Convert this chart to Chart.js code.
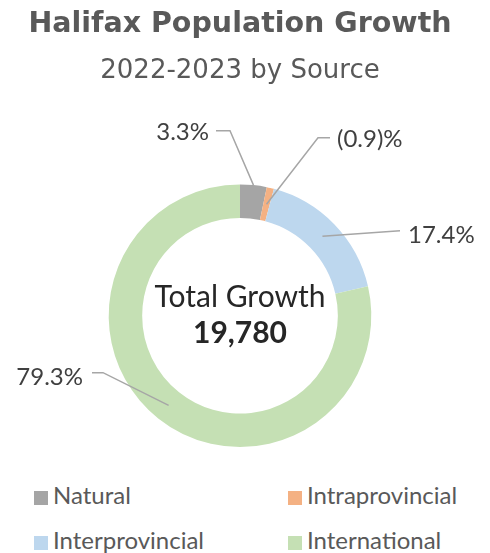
<!DOCTYPE html>
<html>
<head>
<meta charset="utf-8">
<script src="https://cdn.jsdelivr.net/npm/chart.js@4.4.1/dist/chart.umd.min.js"></script>
<style>
  html, body { margin: 0; padding: 0; background: #fff; }
  #wrap { width: 490px; height: 553px; position: relative; }
  #growthChart { display: block; }
  #legend {
    position: absolute; left: 0; top: 472px; width: 490px;
    display: grid; grid-template-columns: 254px 236px;
    font-family: Lato, sans-serif; font-size: 24px; color: #595959;
  }
  #legend div { height: 45px; line-height: 45px; padding-left: 34px; white-space: nowrap; }
  #legend span { display: inline-block; width: 14px; height: 14px; margin-right: 5px; vertical-align: -1px; }
</style>
</head>
<body>
<div id="wrap">
  <canvas id="growthChart" width="490" height="470"></canvas>
  <div id="legend"></div>
</div>
<script>
const categories = ['Natural', 'Intraprovincial', 'Interprovincial', 'International'];
const shares = [3.3, -0.9, 17.4, 79.3];
const totalGrowth = 19780;
const colors = ['#A5A5A5', '#F4B183', '#BDD7EE', '#C5E0B4'];

// label placement relative to chart centre: text anchor, leader line start, optional elbow
const labelSpots = [
  { tx: -31, ty: -183, align: 'right', lx: -24, ly: -185, ex: -10, ey: -185, r: 'outer' },
  { tx: 97, ty: -176, align: 'left', lx: 90, ly: -178, ex: 78, ey: -178, r: 'mid' },
  { tx: 168, ty: -80, align: 'left', lx: 160, ly: -85, ex: null, ey: null, r: 'mid' },
  { tx: -157, ty: 62, align: 'right', lx: -148, ly: 57, ex: -137, ey: 57, r: 'mid' }
];

function fmtShare(v) {
  return v < 0 ? '(' + Math.abs(v).toFixed(1) + ')%' : v.toFixed(1) + '%';
}

const sliceLabels = {
  id: 'sliceLabels',
  afterDatasetsDraw(chart) {
    const ctx = chart.ctx;
    const arcs = chart.getDatasetMeta(0).data;
    ctx.save();
    arcs.forEach((arc, i) => {
      const spot = labelSpots[i];
      const mid = (arc.startAngle + arc.endAngle) / 2;
      const rad = spot.r === 'outer' ? arc.outerRadius : (arc.innerRadius + arc.outerRadius) / 2;
      const ax = arc.x + Math.cos(mid) * rad;
      const ay = arc.y + Math.sin(mid) * rad;
      ctx.strokeStyle = '#A6A6A6';
      ctx.lineWidth = 1.5;
      ctx.beginPath();
      ctx.moveTo(arc.x + spot.lx, arc.y + spot.ly);
      if (spot.ex !== null) ctx.lineTo(arc.x + spot.ex, arc.y + spot.ey);
      ctx.lineTo(ax, ay);
      ctx.stroke();
      ctx.fillStyle = '#404040';
      ctx.font = '24px Lato, sans-serif';
      ctx.textAlign = spot.align;
      ctx.textBaseline = 'middle';
      ctx.fillText(fmtShare(shares[i]), arc.x + spot.tx, arc.y + spot.ty);
    });
    const c = arcs[0];
    ctx.textAlign = 'center';
    ctx.fillStyle = '#262626';
    ctx.font = '30px Lato, sans-serif';
    ctx.fillText('Total Growth', c.x, c.y - 18);
    ctx.font = 'bold 30px Lato, sans-serif';
    ctx.fillText(totalGrowth.toLocaleString('en-US'), c.x, c.y + 18);
    ctx.restore();
  }
};

const ctx = document.getElementById('growthChart').getContext('2d');
new Chart(ctx, {
  type: 'doughnut',
  data: {
    labels: categories,
    datasets: [{
      data: shares.map(v => Math.abs(v)),
      backgroundColor: colors,
      borderWidth: 0
    }]
  },
  options: {
    responsive: false,
    animation: false,
    cutout: '74.5%',
    layout: { padding: { left: 0, right: 10, top: 0, bottom: 23 } },
    plugins: {
      legend: { display: false },
      tooltip: { enabled: false },
      title: {
        display: true,
        text: 'Halifax Population Growth',
        color: '#595959',
        font: { family: '"DejaVu Sans", sans-serif', size: 28.5, weight: 'bold', lineHeight: 1.2 },
        padding: { top: 7, bottom: 0 }
      },
      subtitle: {
        display: true,
        text: '2022-2023 by Source',
        color: '#595959',
        font: { family: '"DejaVu Sans", sans-serif', size: 26, weight: 'normal', lineHeight: 1.2 },
        padding: { top: 14, bottom: 98 }
      }
    }
  },
  plugins: [sliceLabels]
});

const legend = document.getElementById('legend');
categories.forEach((name, i) => {
  const item = document.createElement('div');
  item.innerHTML = '<span style="background:' + colors[i] + '"></span>' + name;
  legend.appendChild(item);
});
</script>
</body>
</html>
